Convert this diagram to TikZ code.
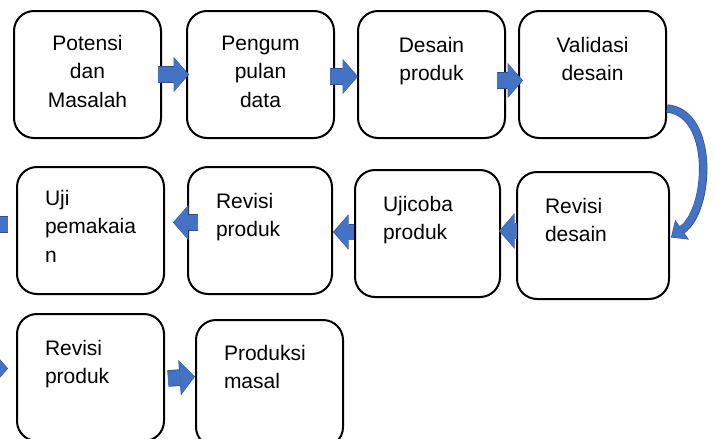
\documentclass[tikz,border=0pt]{standalone}
\usepackage{fontspec}
\setmainfont{Liberation Sans}
\usetikzlibrary{arrows.meta, positioning}
\definecolor{arrowfill}{HTML}{4472C4}
\definecolor{arrowline}{HTML}{2F528F}

\begin{document}
\begin{tikzpicture}[
    x=1pt, y=1pt,
    node distance=29pt and 24pt,
    stage/.style={rectangle, draw, line width=2pt, outer sep=0pt, rounded corners=20pt, inner ysep=0pt, text height=41pt, text depth=86pt, font=\fontsize{21}{28.5}\selectfont},
    stagecenter/.style={stage, inner xsep=0pt, text width=147pt, align=center},
    stageleft/.style={stage, inner xsep=28pt, text width=91pt, align=left},
    blockarrow/.style={line width=15pt, draw=arrowfill, shorten >=0.8pt, -{Triangle[length=14pt, width=33pt, line width=0pt, color=arrowfill]},
        preaction={draw=arrowline, line width=16.6pt, shorten >=0pt, -{Triangle[length=15.5pt, width=35.5pt, line width=0pt, color=arrowline]}}},
    bendarrow/.style={line width=7pt, draw=arrowfill, shorten >=0.8pt, -{Triangle[length=12pt, width=22pt, line width=0pt, color=arrowfill]},
        preaction={draw=arrowline, line width=8.4pt, shorten >=0pt, -{Triangle[length=13.5pt, width=24pt, line width=0pt, color=arrowline]}}}
]
\useasboundingbox (0,0) rectangle (715,-439);

% Row 1 (left to right)
\node[stagecenter, anchor=north west, text height=39pt, text depth=88pt] (Potensi) at (14,-11) {Potensi\\dan\\Masalah};
\node[stagecenter, right=26pt of Potensi, text height=39pt, text depth=88pt] (Pengumpulan) {Pengum\\pulan\\data};
\node[stagecenter, right=24pt of Pengumpulan] (DesainProduk) {Desain\\produk};
\node[stagecenter, right=14pt of DesainProduk] (ValidasiDesain) {Validasi\\desain};

% Row 2 (right to left)
\node[stageleft, below=29pt of Potensi, xshift=3pt, text height=38pt, text depth=89pt] (UjiPemakaian) {Uji\\pemakaia\\n};
\node[stageleft, right=24pt of UjiPemakaian, text width=88pt] (RevisiProduk) {Revisi\\produk};
\node[stageleft, right=23pt of RevisiProduk, yshift=-3pt, text width=89pt] (UjicobaProduk) {Ujicoba\\produk};
\node[stageleft, right=17pt of UjicobaProduk, yshift=-2pt, text width=96pt] (RevisiDesain) {Revisi\\desain};

% Row 3
\node[stageleft, below=20pt of UjiPemakaian] (RevisiProduk2) {Revisi\\produk};
\node[stageleft, right=32pt of RevisiProduk2, yshift=-6pt, text height=40pt, text depth=87pt] (ProduksiMasal) {Produksi\\masal};

% Off-picture ends
\coordinate[left=60pt of UjiPemakaian, yshift=6pt] (ToLeft);
\coordinate[left=60pt of RevisiProduk2, yshift=9pt] (FromLeft);

% Edges
\draw[blockarrow] ([xshift=-3pt]Potensi.east) -- ([xshift=2pt]Pengumpulan.west);
\draw[blockarrow] ([xshift=-4pt, yshift=-2pt]Pengumpulan.east) -- ([yshift=-2pt]DesainProduk.west);
\draw[blockarrow] ([xshift=-8pt, yshift=-6pt]DesainProduk.east) -- ([xshift=4pt, yshift=-6pt]ValidasiDesain.west);
\draw[bendarrow] ([xshift=1pt, yshift=-34pt]ValidasiDesain.east) to[out=-5, in=35, looseness=0.95] ([xshift=2pt, yshift=-2pt]RevisiDesain.east);
\draw[blockarrow] ([yshift=4.5pt]RevisiDesain.west) -- ([xshift=-1pt, yshift=2.5pt]UjicobaProduk.east);
\draw[blockarrow] ([xshift=-1pt, yshift=1.5pt]UjicobaProduk.west) -- ([xshift=1pt, yshift=-1.5pt]RevisiProduk.east);
\draw[blockarrow] ([xshift=10pt, yshift=8pt]RevisiProduk.west) -- ([xshift=9pt, yshift=8pt]UjiPemakaian.east);
\draw[blockarrow] ([xshift=-9pt, yshift=6pt]UjiPemakaian.west) -- (ToLeft);
\draw[blockarrow] (FromLeft) -- ([xshift=-9pt, yshift=9pt]RevisiProduk2.west);
\draw[blockarrow] ([xshift=4pt, yshift=-1pt]RevisiProduk2.east) -- ([xshift=-1pt, yshift=7pt]ProduksiMasal.west);

\end{tikzpicture}
\end{document}
